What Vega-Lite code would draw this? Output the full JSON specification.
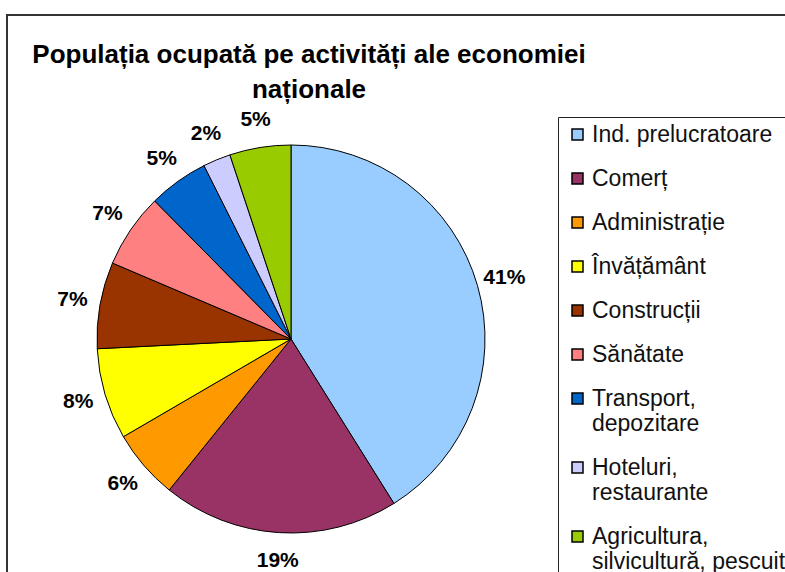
{
  "$schema": "https://vega.github.io/schema/vega-lite/v6.json",
  "autosize": {"type": "none"},
  "width": 800,
  "height": 600,
  "padding": {"left": 7, "top": 15, "right": 0, "bottom": 0},
  "background": "white",
  "view": {"stroke": "#333333", "strokeWidth": 2, "fill": "white"},
  "config": {
    "font": "Liberation Sans",
    "style": {"view": {"stroke": "#333333", "strokeWidth": 2}}
  },
  "title": {
    "text": ["Populația ocupată pe activități ale economiei", "naționale"],
    "font": "Liberation Sans",
    "fontSize": 26,
    "fontWeight": "bold",
    "color": "#000000",
    "anchor": "start",
    "align": "center",
    "frame": "group",
    "dx": 302,
    "baseline": "top",
    "offset": -88,
    "lineHeight": 35
  },
  "data": {
    "values": [
      {"rank": 1, "activitate": "Ind. prelucratoare", "pondere": 41.1, "eticheta": "41%"},
      {"rank": 2, "activitate": "Comerț", "pondere": 19.7, "eticheta": "19%"},
      {"rank": 3, "activitate": "Administrație", "pondere": 5.8, "eticheta": "6%"},
      {"rank": 4, "activitate": "Învățământ", "pondere": 7.6, "eticheta": "8%"},
      {"rank": 5, "activitate": "Construcții", "pondere": 7.2, "eticheta": "7%"},
      {"rank": 6, "activitate": "Sănătate", "pondere": 6.2, "eticheta": "7%"},
      {"rank": 7, "activitate": "Transport, depozitare", "pondere": 5.0, "eticheta": "5%"},
      {"rank": 8, "activitate": "Hoteluri, restaurante", "pondere": 2.3, "eticheta": "2%"},
      {"rank": 9, "activitate": "Agricultura, silvicultură, pescuit", "pondere": 5.1, "eticheta": "5%"}
    ]
  },
  "encoding": {
    "theta": {"field": "pondere", "type": "quantitative", "stack": true},
    "order": {"field": "rank", "type": "quantitative"}
  },
  "layer": [
    {
      "mark": {"type": "arc", "x": 284, "y": 324, "outerRadius": 194, "stroke": "#000000", "strokeWidth": 1},
      "encoding": {
        "color": {
          "field": "activitate",
          "type": "nominal",
          "sort": null,
          "scale": {
            "domain": ["Ind. prelucratoare", "Comerț", "Administrație", "Învățământ", "Construcții", "Sănătate", "Transport, depozitare", "Hoteluri, restaurante", "Agricultura, silvicultură, pescuit"],
            "range": ["#99CCFF", "#993366", "#FF9900", "#FFFF00", "#993300", "#FF8080", "#0066CC", "#CCCCFF", "#99CC00"]
          },
          "legend": {
            "title": null,
            "orient": "none",
            "legendX": 551,
            "legendY": 102,
            "padding": 6,
            "strokeColor": "#222222",
            "symbolType": "square",
            "symbolSize": 121,
            "symbolStrokeColor": "#000000",
            "symbolStrokeWidth": 1.5,
            "symbolOffset": 2,
            "labelFont": "Liberation Sans",
            "labelFontSize": 23,
            "labelColor": "#111111",
            "labelOffset": 3,
            "labelLimit": 400,
            "rowPadding": 20,
            "labelExpr": "split(replace(datum.label, ', ', ',|'), '|')"
          }
        }
      }
    },
    {
      "mark": {"type": "text", "x": 284, "y": 324, "radius": 222, "font": "Liberation Sans", "fontSize": 21, "fontWeight": "bold", "color": "#000000"},
      "encoding": {
        "text": {"field": "eticheta", "type": "nominal"}
      }
    }
  ]
}
